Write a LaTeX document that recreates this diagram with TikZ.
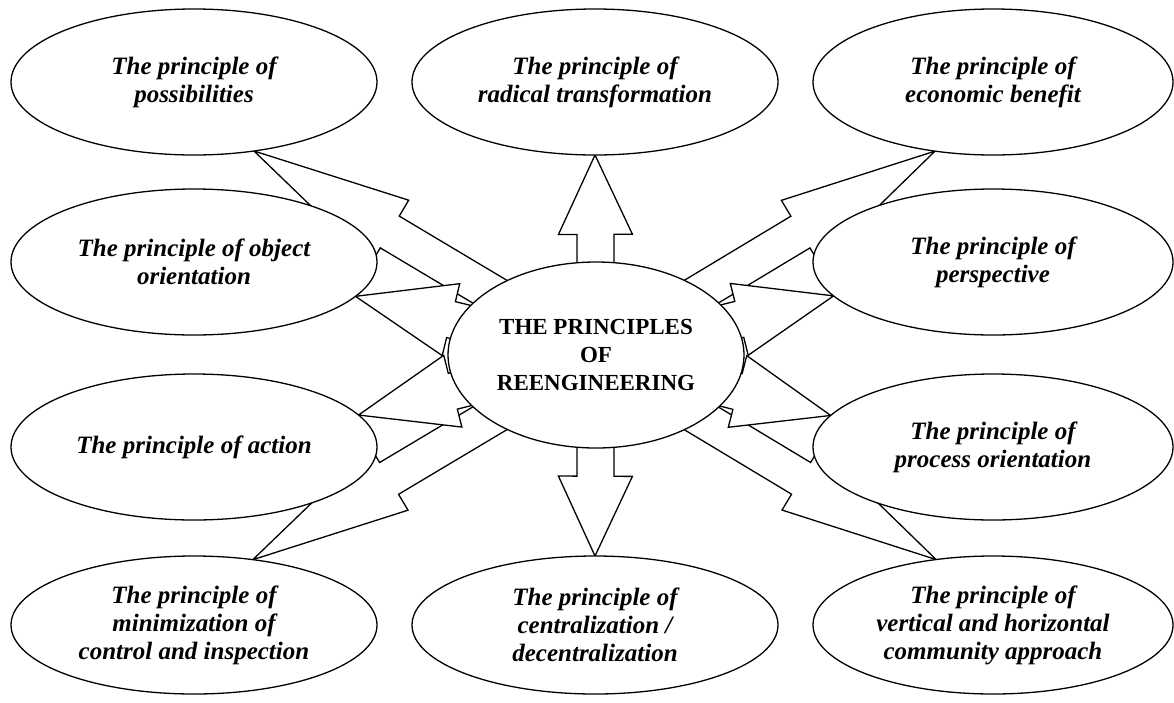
\documentclass[tikz,border=0pt]{standalone}
\usepackage{fontspec}
\setmainfont{Liberation Serif}
\usetikzlibrary{shapes.geometric,calc,backgrounds}

\tikzset{
  principle/.style={ellipse, draw, fill=white, line width=1.3pt,
    inner sep=0pt, outer sep=0pt, minimum width=366pt, minimum height=146pt,
    align=center, font=\fontsize{25}{28}\selectfont\bfseries\itshape},
  lowrow/.style={minimum height=138pt},
  rightcol/.style={minimum width=360pt},
  hub/.style={ellipse, draw, fill=white, line width=1.3pt,
    inner sep=0pt, outer sep=0pt, minimum width=296pt, minimum height=186pt,
    align=center, font=\fontsize{23}{28}\selectfont\bfseries},
  fatarrow/.style={draw, fill=white, line width=1.3pt, line join=miter},
}

% Block arrow from the centre of node #1 to the point #2:
% shaft 37pt wide, head 74pt wide, head 0.397 of the whole length.
\newcommand\spoke[2]{%
  \path (#1.center) coordinate (spokefrom) (#2) coordinate (spoketo);
  \path ($(spokefrom)!0.603!(spoketo)$) coordinate (spokeneck);
  \draw[fatarrow]
    ($(spokefrom)!18.5pt!90:(spoketo)$) --
    ($(spokeneck)!18.5pt!90:(spoketo)$) --
    ($(spokeneck)!37pt!90:(spoketo)$) --
    (spoketo) --
    ($(spokeneck)!37pt!-90:(spoketo)$) --
    ($(spokeneck)!18.5pt!-90:(spoketo)$) --
    ($(spokefrom)!18.5pt!-90:(spoketo)$) -- cycle;
}

\begin{document}
\begin{tikzpicture}[x=1pt, y=-1pt]
\useasboundingbox (0,0) rectangle (1174,702);

% principles around the hub
\node[principle] (poss) at (194,82) {The principle of\\possibilities};
\node[principle] (radical) at (595,82) {The principle of\\radical transformation};
\node[principle, rightcol] (econ) at (993,82) {The principle of\\economic benefit};
\node[principle] (object) at (194,262) {The principle of object\\orientation};
\node[principle, rightcol] (persp) at (993,262) {The principle of\\perspective};
\node[principle] (action) at (194,447) {The principle of action};
\node[principle, rightcol] (process) at (993,447) {The principle of\\process orientation};
\node[principle, lowrow] (minim) at (194,625) {The principle of\\minimization of\\control and inspection};
\node[principle, lowrow] (central) at (595,625) {The principle of\\centralization /\\decentralization};
\node[principle, lowrow, rightcol] (vert) at (993,625) {The principle of\\vertical and horizontal\\community approach};

% hub
\node[hub] (hub) at (596,355) {THE PRINCIPLES\\OF\\REENGINEERING};

% arrows behind the ellipses
\begin{pgfonlayer}{background}
  \spoke{hub}{poss.-49}
  \spoke{hub}{minim.48}
  \spoke{hub}{econ.-130}
  \spoke{hub}{vert.131}
  \spoke{hub}{object.-12}
  \spoke{hub}{action.11}
  \spoke{hub}{persp.192}
  \spoke{hub}{process.169}
  \spoke{hub}{radical.south}
  \spoke{hub}{central.north}
\end{pgfonlayer}
\end{tikzpicture}
\end{document}
